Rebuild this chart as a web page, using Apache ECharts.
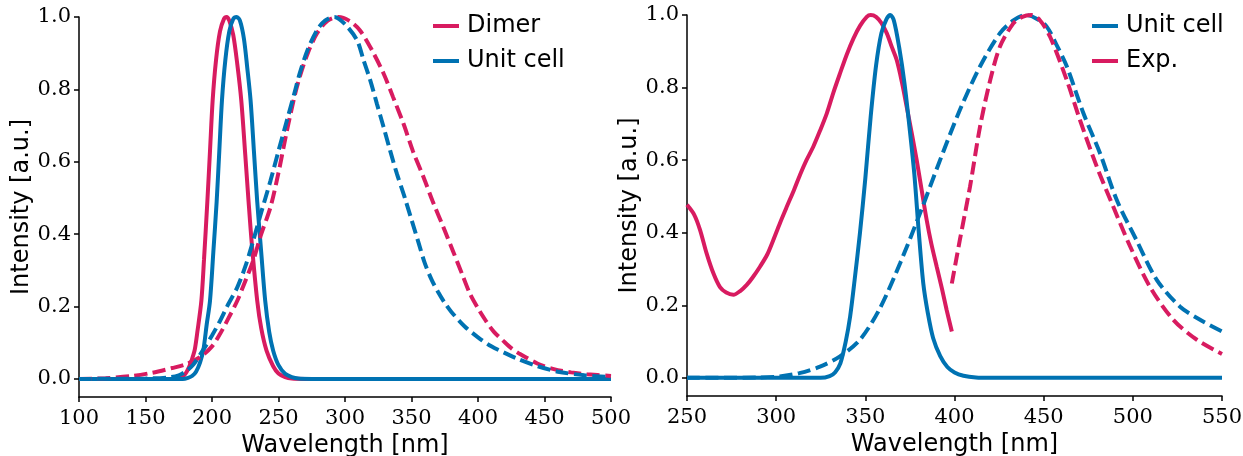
<!DOCTYPE html>
<html lang="en">
  <head>
    <meta charset="UTF-8" />
    <title>Spectra</title>
    <script src="https://cdn.jsdelivr.net/npm/echarts@6/dist/echarts.min.js"></script>
    <style>
      body{margin:0;padding:0;background:#fff;}
      #main{width:1243px;height:456px;}
    </style>
  </head>
  <body>
    <div id="main"></div>
    <script>
      // left panel: dimer vs unit cell
      var dimerAbsX = [100, 170, 176, 179, 181, 183, 185, 187, 189, 192, 194, 196.5, 198.5, 200.5, 203, 206, 209, 211, 213, 216, 219, 222, 225, 227.5, 230, 234, 237, 241, 246, 250, 255, 260, 270, 500];
      var dimerAbsY = [0, 0, 0.003, 0.01, 0.02, 0.035, 0.055, 0.08, 0.13, 0.216, 0.33, 0.49, 0.63, 0.77, 0.88, 0.96, 0.995, 1.0, 0.99, 0.95, 0.87, 0.77, 0.62, 0.49, 0.37, 0.216, 0.14, 0.078, 0.035, 0.015, 0.005, 0.001, 0, 0];

      var cellAbsX = [100, 178, 182, 185, 188, 191, 193.5, 196, 198.5, 201, 203.5, 205.5, 207.5, 210, 213, 216, 218.5, 221, 224, 226.5, 229, 231.5, 234, 237, 240, 243, 246, 250, 255, 260, 265, 275, 500];
      var cellAbsY = [0, 0, 0.003, 0.008, 0.02, 0.045, 0.08, 0.15, 0.216, 0.35, 0.49, 0.63, 0.77, 0.88, 0.96, 0.995, 1.0, 0.99, 0.94, 0.86, 0.77, 0.63, 0.49, 0.35, 0.216, 0.13, 0.078, 0.038, 0.014, 0.005, 0.001, 0, 0];

      var dimerEmX = [100, 120, 140, 155, 170, 180, 191, 200, 206, 212, 219, 225, 231, 237, 244, 250, 256, 262, 266, 272, 279, 287, 295, 303, 311, 320, 329, 336, 344, 351, 359, 366, 374, 381, 388, 394, 400, 406, 412, 419, 425, 432, 445, 457, 470, 482, 500];
      var dimerEmY = [0, 0.002, 0.008, 0.017, 0.03, 0.04, 0.06, 0.09, 0.124, 0.165, 0.216, 0.27, 0.327, 0.40, 0.475, 0.57, 0.68, 0.78, 0.835, 0.9, 0.955, 0.99, 1.0, 0.99, 0.964, 0.91, 0.844, 0.78, 0.705, 0.63, 0.558, 0.49, 0.419, 0.355, 0.29, 0.235, 0.195, 0.16, 0.13, 0.105, 0.085, 0.068, 0.042, 0.027, 0.018, 0.013, 0.008];

      var cellEmX = [100, 150, 167, 175, 180, 186, 193, 200, 206, 212, 219, 225, 231, 237, 244, 250, 256, 262, 266, 272, 279, 285, 292, 300, 309, 314, 319, 324, 329, 334, 339, 345, 350, 355, 360, 365, 370, 375, 380, 390, 400, 410, 420, 430, 445, 460, 480, 500];
      var cellEmY = [0, 0.001, 0.004, 0.01, 0.02, 0.04, 0.078, 0.12, 0.16, 0.205, 0.253, 0.31, 0.382, 0.46, 0.548, 0.63, 0.71, 0.79, 0.845, 0.91, 0.964, 0.99, 1.0, 0.98, 0.936, 0.88, 0.825, 0.76, 0.696, 0.63, 0.567, 0.5, 0.44, 0.38, 0.32, 0.275, 0.24, 0.21, 0.185, 0.145, 0.115, 0.09, 0.072, 0.055, 0.035, 0.02, 0.01, 0.005];

      // right panel: unit cell vs experiment
      var expAbsX = [250, 254, 257.3, 261, 264.8, 268.5, 272, 276, 280, 283.5, 287, 291, 295, 298.4, 302, 306, 310, 313.4, 317, 320.8, 324.5, 328.4, 332, 335.8, 339.5, 343.3, 347, 350.8, 353, 356, 359, 362, 365, 367.6, 370.5, 373.2, 376, 378.8, 381.5, 384.4, 387, 390, 393, 395.6, 398.5];
      var expAbsY = [0.477, 0.45, 0.408, 0.343, 0.288, 0.25, 0.235, 0.229, 0.24, 0.256, 0.278, 0.307, 0.34, 0.38, 0.425, 0.472, 0.518, 0.56, 0.6, 0.637, 0.68, 0.729, 0.785, 0.839, 0.89, 0.935, 0.97, 0.995, 1.0, 0.995, 0.978, 0.95, 0.91, 0.876, 0.815, 0.747, 0.675, 0.6, 0.52, 0.435, 0.37, 0.307, 0.245, 0.187, 0.128];

      var cellAbsRX = [250, 325, 330, 333, 336, 339, 341.5, 344, 347, 350, 353, 356, 359, 362, 364, 366, 369, 372, 375, 377.5, 380, 382.5, 385, 388, 392, 396, 400, 405, 412, 420, 550];
      var cellAbsRY = [0, 0, 0.005, 0.015, 0.04, 0.1, 0.17, 0.27, 0.4, 0.55, 0.72, 0.86, 0.95, 0.99, 1.0, 0.985, 0.91, 0.81, 0.68, 0.56, 0.40, 0.26, 0.18, 0.11, 0.06, 0.03, 0.015, 0.006, 0.001, 0, 0];

      var cellEmRX = [250, 290, 302, 313, 324.6, 335.8, 347, 358, 369.5, 380.7, 391.9, 403, 414.3, 425.5, 433, 440, 446, 451.7, 457, 463, 472.3, 481.6, 491, 502, 513.4, 526.5, 537.7, 550];
      var cellEmRY = [0, 0.001, 0.004, 0.013, 0.031, 0.059, 0.105, 0.19, 0.316, 0.454, 0.6, 0.738, 0.858, 0.95, 0.985, 1.0, 0.99, 0.968, 0.92, 0.858, 0.729, 0.619, 0.49, 0.38, 0.27, 0.196, 0.16, 0.128];

      var expEmX = [398.5, 403, 408.7, 414.3, 420, 425.5, 433, 438, 443, 448, 453.6, 463, 470.4, 479.8, 489, 498.5, 509.7, 522.7, 535.9, 550];
      var expEmY = [0.26, 0.38, 0.527, 0.692, 0.82, 0.913, 0.977, 0.995, 1.0, 0.985, 0.94, 0.82, 0.71, 0.582, 0.472, 0.362, 0.25, 0.16, 0.105, 0.066];

      var yTicks = [0, 0.2, 0.4, 0.6, 0.8, 1.0];
      var leftNames = ['Dimer', 'Unit cell'];
      var rightNames = ['Unit cell', 'Exp.'];

      var RED = '#D81B60';
      var BLUE = '#0072B2';

      function pairs(xs, ys) {
        return xs.map(function (x, i) { return [x, ys[i]]; });
      }

      function curve(name, xs, ys, color, dashed, idx) {
        return {
          name: name,
          type: 'line',
          xAxisIndex: idx,
          yAxisIndex: idx,
          data: pairs(xs, ys),
          symbol: 'none',
          smooth: 0.3,
          clip: false,
          color: color,
          itemStyle: {color: color},
          lineStyle: {color: color, width: 4, type: dashed ? [13, 5.5] : 'solid'}
        };
      }

      function xAx(idx, min, max) {
        return {
          type: 'value', gridIndex: idx, min: min, max: max, interval: 50,
          name: 'Wavelength [nm]', nameLocation: 'middle', nameGap: 33,
          nameTextStyle: {fontFamily: 'DejaVu Sans', fontSize: 24, color: '#000'},
          axisLine: {onZero: false, lineStyle: {color: '#000', width: 1.5}},
          axisTick: {length: 5, lineStyle: {color: '#000', width: 1.5}},
          axisLabel: {margin: 11, fontFamily: 'DejaVu Serif', fontSize: 21, color: '#000'},
          splitLine: {show: false}
        };
      }

      function yAx(idx) {
        return {
          type: 'value', gridIndex: idx, min: -0.05, max: 1.0,
          name: 'Intensity [a.u.]', nameLocation: 'middle', nameGap: 43,
          nameTextStyle: {fontFamily: 'DejaVu Sans', fontSize: 24, color: '#000'},
          axisLine: {show: true, lineStyle: {color: '#000', width: 1.5}},
          axisTick: {show: true, length: 5, customValues: yTicks, lineStyle: {color: '#000', width: 1.5}},
          axisLabel: {margin: 8, customValues: yTicks, fontFamily: 'DejaVu Serif', fontSize: 21, color: '#000',
            formatter: function (v) { return v.toFixed(1); }},
          splitLine: {show: false}
        };
      }

      function legendAt(left, names) {
        return {
          data: names, orient: 'vertical', left: left, top: 9, itemGap: 11,
          icon: 'rect', itemWidth: 26, itemHeight: 4, selectedMode: false,
          textStyle: {fontFamily: 'DejaVu Sans', fontSize: 24, lineHeight: 24, color: '#000', padding: [0, 0, 0, 3]}
        };
      }

      var chart = echarts.init(document.getElementById('main'));
      chart.setOption({
        animation: false,
        backgroundColor: '#fff',
        grid: [
          {left: 79, top: 17, width: 532, height: 380, outerBoundsMode: 'none'},
          {left: 687, top: 15, width: 535, height: 381, outerBoundsMode: 'none'}
        ],
        legend: [legendAt(428, leftNames), legendAt(1087, rightNames)],
        xAxis: [xAx(0, 100, 500), xAx(1, 250, 550)],
        yAxis: [yAx(0), yAx(1)],
        series: [
          curve('Dimer', dimerAbsX, dimerAbsY, RED, false, 0),
          curve('Unit cell', cellAbsX, cellAbsY, BLUE, false, 0),
          curve('Dimer', dimerEmX, dimerEmY, RED, true, 0),
          curve('Unit cell', cellEmX, cellEmY, BLUE, true, 0),
          curve('Exp.', expAbsX, expAbsY, RED, false, 1),
          curve('Unit cell', cellAbsRX, cellAbsRY, BLUE, false, 1),
          curve('Unit cell', cellEmRX, cellEmRY, BLUE, true, 1),
          curve('Exp.', expEmX, expEmY, RED, true, 1)
        ]
      });
    </script>
  </body>
</html>
